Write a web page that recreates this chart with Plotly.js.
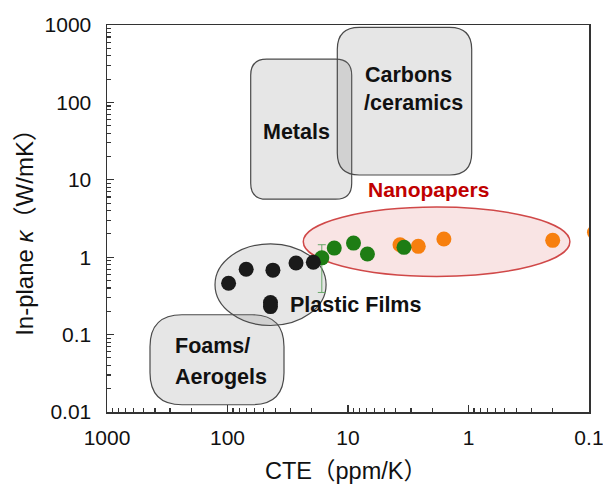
<!DOCTYPE html>
<html>
<head>
<meta charset="utf-8">
<script src="https://cdn.plot.ly/plotly-3.0.1.min.js"></script>
<style>html,body{margin:0;padding:0;background:#fff;}#chart{width:603px;height:485px;}</style>
</head>
<body>
<div id="chart"></div>
<script>
// Data (CTE in ppm/K, in-plane thermal conductivity in W/mK)
const plasticCTE = [98, 70, 42, 27, 19.4, 44, 44];
const plasticK   = [0.46, 0.70, 0.68, 0.84, 0.86, 0.26, 0.23];

const greenCTE = [16.5, 13.0, 9.0, 6.9, 3.43];
const greenK   = [0.98, 1.31, 1.52, 1.10, 1.34];
const greenErrPlus  = [0.47, 0, 0, 0, 0];
const greenErrMinus = [0.63, 0, 0, 0, 0];

const orangeCTE = [3.70, 2.61, 1.60, 0.20, 0.09];
const orangeK   = [1.45, 1.38, 1.72, 1.65, 2.1];

const xTickVals = [1000, 100, 10, 1, 0.1];
const xTickText = ['1000', '100', '10', '1', '0.1'];
const yTickVals = [0.01, 0.1, 1, 10, 100, 1000];
const yTickText = ['0.01', '0.1', '1', '10', '100', '1000'];

const FONT = 'Liberation Sans, Arial, Helvetica, Noto Sans CJK JP, sans-serif';

// plot area geometry (pixels)
const L = 107, R = 589, T = 25, B = 412.3;
const W = 603, H = 485;
const PX = p => (p - L) / (R - L);
const PY = p => (B - p) / (B - T);

function roundRect(w, h, r) {
  const a = w / 2, b = h / 2;
  return `M ${-a + r},${-b} L ${a - r},${-b} Q ${a},${-b} ${a},${-b + r} ` +
         `L ${a},${b - r} Q ${a},${b} ${a - r},${b} L ${-a + r},${b} ` +
         `Q ${-a},${b} ${-a},${b - r} L ${-a},${-b + r} Q ${-a},${-b} ${-a + r},${-b} Z`;
}
function rrShape(cx, cy, w, h, r) {
  return {
    type: 'path', xref: 'paper', yref: 'paper',
    xsizemode: 'pixel', ysizemode: 'pixel',
    xanchor: PX(cx), yanchor: PY(cy),
    path: roundRect(w, h, r),
    fillcolor: 'rgba(120,120,120,0.19)',
    line: {color: '#4a4a4a', width: 1.2},
    layer: 'below'
  };
}

const traces = [
  {
    x: orangeCTE, y: orangeK, type: 'scatter', mode: 'markers',
    marker: {size: 15, color: '#f77f0e'}, showlegend: false, hoverinfo: 'skip'
  },
  {
    x: greenCTE, y: greenK, type: 'scatter', mode: 'markers',
    marker: {size: 15, color: '#1e7d14'},
    error_y: {type: 'data', symmetric: false, array: greenErrPlus, arrayminus: greenErrMinus,
              color: '#6aa86a', thickness: 1, width: 4},
    showlegend: false, hoverinfo: 'skip'
  },
  {
    x: plasticCTE, y: plasticK, type: 'scatter', mode: 'markers',
    marker: {size: 15, color: '#1a1a1a'}, showlegend: false, hoverinfo: 'skip'
  }
];

const shapes = [
  rrShape(217, 360, 134, 90, 32),          // Foams/Aerogels
  rrShape(301.2, 129.3, 101, 140, 16),     // Metals
  rrShape(404.5, 101.2, 134.4, 147.7, 22), // Carbons/ceramics
  { // Plastic films ellipse
    type: 'circle', xref: 'x', yref: 'y',
    x0: 127, x1: 15.2, y0: 0.131, y1: 1.49,
    fillcolor: 'rgba(120,120,120,0.19)', line: {color: '#4a4a4a', width: 1.2}, layer: 'below'
  },
  { // Nanopapers ellipse
    type: 'circle', xref: 'x', yref: 'y',
    x0: 23.5, x1: 0.144, y0: 0.565, y1: 4.44,
    fillcolor: 'rgba(225,120,120,0.2)', line: {color: '#d04848', width: 1.5}, layer: 'below'
  }
];

const annFont = {family: FONT, size: 21.5, color: '#111'};
const annotations = [
  {text: '<b>Metals</b>', x: PX(296), y: PY(132)},
  {text: '<b>Carbons</b>', x: PX(408), y: PY(75)},
  {text: '<b>/ceramics</b>', x: PX(413), y: PY(103.5)},
  {text: '<b>Plastic Films</b>', x: PX(355), y: PY(305)},
  {text: '<b>Foams/</b>', x: PX(212), y: PY(346)},
  {text: '<b>Aerogels</b>', x: PX(221), y: PY(377)},
  {text: '<b>Nanopapers</b>', x: PX(428), y: PY(190), font: {family: FONT, size: 21, color: '#c00000'}},
  {text: 'In-plane <i>κ</i>（W/mK）', x: PX(25), y: PY(227),
   textangle: -90, font: {family: FONT, size: 24, color: '#111'}},
  {text: 'CTE（ppm/K）', x: PX(346), y: PY(471),
   font: {family: FONT, size: 23.5, color: '#111'}}
].map(a => Object.assign({xref: 'paper', yref: 'paper', showarrow: false,
  xanchor: 'center', yanchor: 'middle', font: annFont}, a));

const layout = {
  width: W, height: H,
  margin: {l: L, r: W - R, t: T, b: H - B},
  paper_bgcolor: '#fff', plot_bgcolor: '#fff',
  showlegend: false,
  xaxis: {
    type: 'log', range: [3.0003, -1.0003], autorange: false,
    tickmode: 'array', tickvals: xTickVals, ticktext: xTickText,
    ticks: 'inside', ticklen: 7, tickwidth: 1.3, tickcolor: '#333',
    minor: {ticks: 'inside', ticklen: 4, tickwidth: 1.1, tickcolor: '#333', dtick: 'D1', showgrid: false},
    showline: true, linecolor: '#333', linewidth: 1.5, mirror: true,
    showgrid: false, zeroline: false,
    tickfont: {family: FONT, size: 21, color: '#111'},
    ticklabeloverflow: 'allow',
    ticklabelstandoff: 6
  },
  yaxis: {
    type: 'log', range: [-2.0003, 3.0003], autorange: false,
    tickmode: 'array', tickvals: yTickVals, ticktext: yTickText,
    ticks: 'inside', ticklen: 7, tickwidth: 1.3, tickcolor: '#333',
    minor: {ticks: 'inside', ticklen: 4, tickwidth: 1.1, tickcolor: '#333', dtick: 'D1', showgrid: false},
    showline: true, linecolor: '#333', linewidth: 1.5, mirror: true,
    showgrid: false, zeroline: false,
    tickfont: {family: FONT, size: 21, color: '#111'},
    ticklabeloverflow: 'allow',
    ticklabelstandoff: 10
  },
  shapes: shapes,
  annotations: annotations
};

Plotly.newPlot('chart', traces, layout, {staticPlot: true, displayModeBar: false});
</script>
</body>
</html>
